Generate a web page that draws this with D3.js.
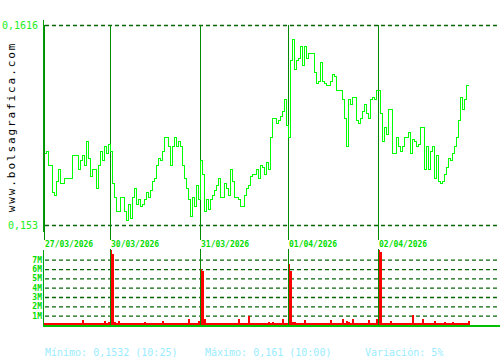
<!DOCTYPE html>
<html>
<head>
<meta charset="utf-8">
<script src="https://cdn.jsdelivr.net/npm/d3@7"></script>
<style>
body { margin: 0; background: #fff; }
</style>
</head>
<body>
<div id="chart"></div>
<script>
// sesiones
var dias = ["27/03/2026", "30/03/2026", "31/03/2026", "01/04/2026", "02/04/2026"];

// cotizacion por tramo (euros)
var precio27 = [0.1561, 0.1562, 0.1556, 0.1556, 0.1544, 0.1543, 0.1549, 0.1554, 0.1548, 0.1548, 0.1550, 0.1550, 0.1550, 0.1550, 0.1560, 0.1560, 0.1560, 0.1554, 0.1558, 0.1560, 0.1556, 0.1566, 0.1559, 0.1551, 0.1554, 0.1554, 0.1546, 0.1556, 0.1562, 0.1558, 0.1564, 0.1561, 0.1565];
var precio30 = [0.1562, 0.1548, 0.1542, 0.1536, 0.1536, 0.1542, 0.1542, 0.1536, 0.1532, 0.1539, 0.1533, 0.1542, 0.1546, 0.1539, 0.1541, 0.1538, 0.1539, 0.1541, 0.1544, 0.1542, 0.1545, 0.1549, 0.1550, 0.1556, 0.1559, 0.1558, 0.1562, 0.1568, 0.1568, 0.1564, 0.1556, 0.1564, 0.1568, 0.1564, 0.1566, 0.1564, 0.1556, 0.1550, 0.1546, 0.1541, 0.1534, 0.1542, 0.1538, 0.1547, 0.1541];
var precio31 = [0.1558, 0.1552, 0.1536, 0.1541, 0.1537, 0.1541, 0.1543, 0.1545, 0.1547, 0.1550, 0.1542, 0.1542, 0.1548, 0.1546, 0.1543, 0.1554, 0.1549, 0.1542, 0.1542, 0.1541, 0.1538, 0.1538, 0.1543, 0.1546, 0.1547, 0.1551, 0.1552, 0.1552, 0.1554, 0.1550, 0.1556, 0.1555, 0.1552, 0.1557, 0.1554, 0.1568, 0.1576, 0.1576, 0.1574, 0.1575, 0.1577, 0.1579, 0.1584, 0.1573];
var precio01 = [0.1568, 0.1601, 0.1610, 0.1597, 0.1601, 0.1602, 0.1607, 0.1599, 0.1607, 0.1602, 0.1604, 0.1604, 0.1604, 0.1596, 0.1591, 0.1592, 0.1600, 0.1592, 0.1591, 0.1590, 0.1590, 0.1592, 0.1595, 0.1594, 0.1588, 0.1588, 0.1588, 0.1584, 0.1576, 0.1564, 0.1584, 0.1582, 0.1585, 0.1585, 0.1575, 0.1574, 0.1576, 0.1579, 0.1582, 0.1578, 0.1576, 0.1584, 0.1585, 0.1584, 0.1588];
var precio02 = [0.1588, 0.1578, 0.1566, 0.1572, 0.1569, 0.1580, 0.1580, 0.1561, 0.1561, 0.1568, 0.1564, 0.1562, 0.1564, 0.1568, 0.1568, 0.1570, 0.1561, 0.1567, 0.1566, 0.1564, 0.1565, 0.1572, 0.1572, 0.1554, 0.1564, 0.1554, 0.1562, 0.1564, 0.1550, 0.1560, 0.1549, 0.1548, 0.1549, 0.1552, 0.1555, 0.1559, 0.1558, 0.1561, 0.1564, 0.1568, 0.1575, 0.1585, 0.1580, 0.1584, 0.1590, 0.1590];

// volumen por tramo (millones de titulos)
var vol27 = [0.12, 0.12, 0.12, 0.12, 0.18, 0.12, 0.18, 0.12, 0.12, 0.12, 0.12, 0.12, 0.18, 0.2, 0.12, 0.12, 0.12, 0.12, 0.2, 0.45, 0.15, 0.15, 0.12, 0.15, 0.12, 0.15, 0.12, 0.12, 0.12, 0.12, 0.35, 0.12, 0.25];
var vol30 = [8.0, 7.6, 0.25, 0.12, 0.35, 0.12, 0.15, 0.2, 0.12, 0.12, 0.12, 0.12, 0.12, 0.12, 0.12, 0.12, 0.12, 0.32, 0.12, 0.12, 0.12, 0.12, 0.12, 0.12, 0.12, 0.12, 0.35, 0.12, 0.12, 0.12, 0.12, 0.12, 0.12, 0.12, 0.12, 0.12, 0.18, 0.18, 0.12, 0.54, 0.12, 0.2, 0.12, 0.15, 0.35];
var vol31 = [5.9, 5.7, 0.64, 0.12, 0.18, 0.18, 0.18, 0.12, 0.12, 0.12, 0.12, 0.12, 0.15, 0.12, 0.12, 0.12, 0.15, 0.12, 0.12, 0.64, 0.12, 0.12, 0.12, 0.12, 0.96, 0.12, 0.12, 0.12, 0.12, 0.12, 0.15, 0.12, 0.12, 0.12, 0.25, 0.12, 0.25, 0.12, 0.12, 0.2, 0.12, 0.64, 0.12, 0.2];
var vol01 = [6.5, 5.7, 0.25, 0.25, 0.2, 0.12, 0.18, 0.12, 0.46, 0.12, 0.12, 0.12, 0.12, 0.12, 0.18, 0.18, 0.12, 0.12, 0.12, 0.12, 0.12, 0.46, 0.12, 0.12, 0.2, 0.12, 0.12, 0.54, 0.12, 0.35, 0.3, 0.12, 0.54, 0.12, 0.12, 0.12, 0.18, 0.15, 0.18, 0.15, 0.46, 0.12, 0.12, 0.12, 0.54];
var vol02 = [8.0, 7.8, 0.12, 0.12, 0.12, 0.12, 0.35, 0.12, 0.12, 0.12, 0.12, 0.12, 0.12, 0.12, 0.12, 0.12, 0.12, 1.0, 0.12, 0.12, 0.12, 0.12, 0.64, 0.12, 0.12, 0.12, 0.12, 0.12, 0.35, 0.12, 0.12, 0.12, 0.18, 0.25, 0.12, 0.12, 0.12, 0.25, 0.12, 0.12, 0.12, 0.15, 0.15, 0.12, 0.12, 0.35];

var preciosTicks = [0.153, 0.1616];
var volTicks = [1, 2, 3, 4, 5, 6, 7];
var resumen = ["Mínimo: 0,1532 (10:25)", "Máximo: 0,161 (10:00)", "Variación: 5%"];

var precios = [precio27, precio30, precio31, precio01, precio02];
var volumenes = [vol27, vol30, vol31, vol01, vol02];

var fullWidth = 500;
var fullHeight = 360;
var mono = "'DejaVu Sans Mono', monospace";
var verdeLinea = "#00ff00";
var verdeEje = "#00a000";
var verdeDia = "#008a00";
var verdeRejilla = "#0a650a";

// juntar los tramos en una serie
var datos = [];
var inicioDia = [];
precios.forEach(function (serie, d) {
    inicioDia.push(datos.length);
    serie.forEach(function (p, i) {
        datos.push({ i: datos.length, precio: p, vol: volumenes[d][i] });
    });
});

var svg = d3.select("#chart")
    .append("svg")
    .attr("width", fullWidth)
    .attr("height", fullHeight)
    .style("display", "block")
    .style("background", "#fff");

var x = d3.scaleLinear().domain([0, datos.length - 1]).range([44, 468]);
var y = d3.scaleLinear().domain([0.153, 0.1616]).range([225, 25]);
var yVol = d3.scaleLinear().domain([0, 8.04]).range([325, 250]);

// eje de precios con lineas discontinuas
var ejePrecio = svg.append("g")
    .attr("transform", "translate(45,0)")
    .call(d3.axisLeft(y)
        .tickValues(preciosTicks)
        .tickSize(-455)
        .tickPadding(7)
        .tickFormat(function (d) { return String(d).replace(".", ","); }));
ejePrecio.select(".domain").remove();
ejePrecio.selectAll(".tick line")
    .attr("stroke", verdeRejilla)
    .attr("stroke-width", 1.3)
    .attr("stroke-dasharray", "4,3");
ejePrecio.selectAll(".tick text")
    .attr("fill", "#22ee22")
    .attr("font-family", mono)
    .attr("font-size", 10);

// eje de volumen
var ejeVol = svg.append("g")
    .attr("transform", "translate(45,0)")
    .call(d3.axisLeft(yVol)
        .tickValues(volTicks)
        .tickSize(-455)
        .tickPadding(3)
        .tickFormat(function (d) { return d + "M"; }));
ejeVol.select(".domain").remove();
ejeVol.selectAll(".tick line")
    .attr("stroke", verdeRejilla)
    .attr("stroke-width", 1.3)
    .attr("stroke-dasharray", "4,3");
ejeVol.selectAll(".tick text")
    .attr("fill", "#00dd00")
    .attr("font-family", mono)
    .attr("font-weight", "bold")
    .attr("font-size", 8);

// barras de volumen
svg.append("g")
    .attr("shape-rendering", "crispEdges")
    .selectAll("rect")
    .data(datos)
    .enter()
    .append("rect")
    .attr("x", function (d) { return x(d.i); })
    .attr("y", function (d) { return Math.floor(yVol(d.vol)); })
    .attr("width", x(1) - x(0))
    .attr("height", function (d) { return yVol(0) - Math.floor(yVol(d.vol)); })
    .attr("fill", "#ff0000");

// separadores de sesion
svg.append("g")
    .selectAll("line")
    .data(inicioDia)
    .enter()
    .append("line")
    .attr("x1", function (d) { return Math.round(x(d)) + 0.5; })
    .attr("x2", function (d) { return Math.round(x(d)) + 0.5; })
    .attr("y1", 25)
    .attr("y2", 240)
    .attr("stroke", verdeDia);
svg.append("g")
    .selectAll("line")
    .data(inicioDia.slice(1))
    .enter()
    .append("line")
    .attr("x1", function (d) { return Math.round(x(d)) + 0.5; })
    .attr("x2", function (d) { return Math.round(x(d)) + 0.5; })
    .attr("y1", 249)
    .attr("y2", 326)
    .attr("stroke", verdeDia);

// cotizacion
var linea = d3.line()
    .x(function (d) { return x(d.i) + 0.5; })
    .y(function (d) { return Math.round(y(d.precio)) + 0.5; })
    .curve(d3.curveStepAfter);
svg.append("path")
    .datum(datos)
    .attr("d", linea)
    .attr("fill", "none")
    .attr("stroke", verdeLinea)
    .attr("stroke-width", 1)
    .attr("shape-rendering", "crispEdges");

// ejes solidos
svg.append("line").attr("x1", 43.5).attr("x2", 43.5).attr("y1", 20).attr("y2", 232).attr("stroke", verdeEje);
svg.append("line").attr("x1", 43.5).attr("x2", 43.5).attr("y1", 250).attr("y2", 327).attr("stroke", verdeEje);
svg.append("line").attr("x1", 43).attr("x2", 500).attr("y1", 326).attr("y2", 326).attr("stroke", "#00c000").attr("stroke-width", 2);

// fechas
svg.append("g")
    .selectAll("text")
    .data(inicioDia)
    .enter()
    .append("text")
    .attr("x", function (d) { return Math.round(x(d)) + 1; })
    .attr("y", 247)
    .attr("fill", "#00dd00")
    .attr("font-family", mono)
    .attr("font-weight", "bold")
    .attr("font-size", 8)
    .text(function (d, k) { return dias[k]; });

// marca vertical
svg.append("text")
    .attr("transform", "translate(15,127) rotate(-90)")
    .attr("text-anchor", "middle")
    .attr("font-family", mono)
    .attr("font-size", 11)
    .attr("letter-spacing", 1.9)
    .attr("fill", "#000")
    .text("www.bolsagrafica.com");

// resumen inferior
svg.append("g")
    .selectAll("text")
    .data(resumen)
    .enter()
    .append("text")
    .attr("x", function (d, k) { return 45 + k * 160; })
    .attr("y", 356)
    .attr("fill", "#99ecff")
    .attr("font-family", mono)
    .attr("font-size", 10)
    .text(function (d) { return d; });
</script>
</body>
</html>
